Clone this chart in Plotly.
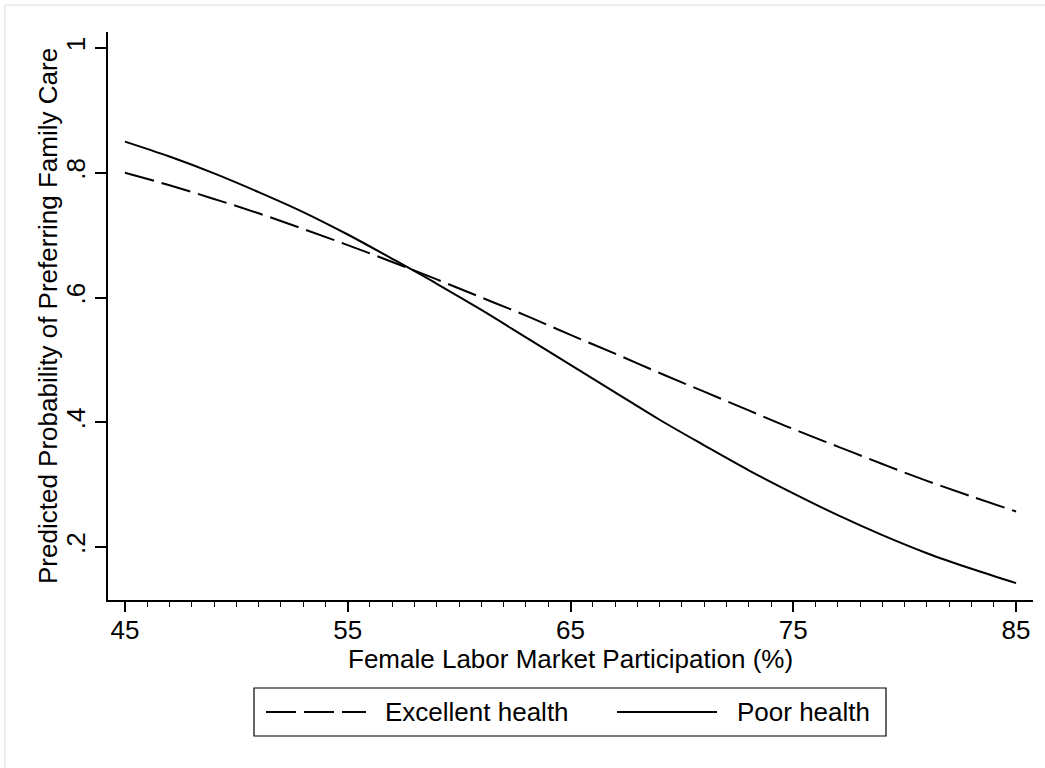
import plotly.graph_objects as go

# Predicted probability of preferring family care by female labor market participation
participation = [45, 47, 49, 51, 53, 55, 57, 59, 61, 63, 65,
                 67, 69, 71, 73, 75, 77, 79, 81, 83, 85]
excellent_health = [0.800, 0.780, 0.758, 0.735, 0.710, 0.684, 0.657, 0.629, 0.600, 0.571, 0.540,
                    0.510, 0.479, 0.449, 0.419, 0.389, 0.361, 0.333, 0.306, 0.281, 0.257]
poor_health = [0.850, 0.826, 0.799, 0.769, 0.737, 0.701, 0.662, 0.622, 0.580, 0.536, 0.492,
               0.448, 0.404, 0.363, 0.323, 0.286, 0.251, 0.219, 0.190, 0.165, 0.142]

x_ticks = [45, 55, 65, 75, 85]
y_ticks = [0.2, 0.4, 0.6, 0.8, 1.0]
y_tick_text = [".2", ".4", ".6", ".8", "1"]

series_names = ["Excellent health", "Poor health"]
x_title = "Female Labor Market Participation (%)"
y_title = "Predicted Probability of Preferring Family Care"

FONT = "Liberation Sans, Arial, Helvetica, sans-serif"
FS = 26
DASH = "30px,8px"

W, H = 1045, 768
L, R, T, B = 108, 12, 32, 168
PW, PH = W - L - R, H - T - B


def px(xp):
    return (xp - L) / PW


def py(yp):
    return (H - B - yp) / PH


fig = go.Figure()
fig.add_trace(go.Scatter(x=participation, y=excellent_health, mode="lines",
                         name=series_names[0], line=dict(color="black", width=2, dash=DASH,
                                                         shape="spline"),
                         showlegend=False))
fig.add_trace(go.Scatter(x=participation, y=poor_health, mode="lines",
                         name=series_names[1], line=dict(color="black", width=2,
                                                         shape="spline"),
                         showlegend=False))

fig.update_layout(
    width=W, height=H,
    margin=dict(l=L, r=R, t=T, b=B),
    paper_bgcolor="white", plot_bgcolor="white",
    font=dict(family=FONT, size=FS, color="black"),
    xaxis=dict(
        range=[44.24, 85.76], tickvals=x_ticks, ticks="outside", ticklen=10,
        tickwidth=1.5, tickcolor="black", showline=True, linecolor="black",
        linewidth=1.5, showgrid=False, zeroline=False, ticklabelstandoff=-4,
        minor=dict(dtick=1, tick0=45, ticks="outside", ticklen=5, tickwidth=1.2,
                   tickcolor="black", showgrid=False),
    ),
    yaxis=dict(
        range=[0.115, 1.0257], tickvals=y_ticks, ticktext=y_tick_text, tickangle=-90,
        ticks="outside", ticklen=11, tickwidth=1.5, tickcolor="black",
        showline=True, linecolor="black", linewidth=1.5, showgrid=False,
        zeroline=False,
    ),
)

# Legend box with line samples
lg_top, lg_bot = 688, 736
lg_mid = (lg_top + lg_bot) / 2
shapes = [
    dict(type="rect", xref="paper", yref="paper", x0=px(254), x1=px(886),
         y0=py(lg_bot), y1=py(lg_top), line=dict(color="black", width=1.2)),
    dict(type="line", xref="paper", yref="paper", x0=px(266), x1=px(366),
         y0=py(lg_mid), y1=py(lg_mid), line=dict(color="black", width=2, dash=DASH)),
    dict(type="line", xref="paper", yref="paper", x0=px(617), x1=px(717),
         y0=py(lg_mid), y1=py(lg_mid), line=dict(color="black", width=2)),
    # faint outer frame edges
    dict(type="line", xref="paper", yref="paper", x0=px(5), x1=px(W),
         y0=py(5), y1=py(5), line=dict(color="#e6eaec", width=1.5)),
    dict(type="line", xref="paper", yref="paper", x0=px(5), x1=px(5),
         y0=py(5), y1=py(H), line=dict(color="#e6eaec", width=1.5)),
]
annotations = [
    # axis titles
    dict(xref="paper", yref="paper", x=0.5, y=py(659), text=x_title,
         showarrow=False, xanchor="center", yanchor="middle", font=dict(size=FS)),
    dict(xref="paper", yref="paper", x=px(48), y=0.5, text=y_title, textangle=-90,
         showarrow=False, xanchor="center", yanchor="middle", font=dict(size=FS)),
    # legend labels
    dict(xref="paper", yref="paper", x=px(383), y=py(lg_mid), text=series_names[0],
         showarrow=False, xanchor="left", yanchor="middle", font=dict(size=FS)),
    dict(xref="paper", yref="paper", x=px(735), y=py(lg_mid), text=series_names[1],
         showarrow=False, xanchor="left", yanchor="middle", font=dict(size=FS)),
]
fig.update_layout(shapes=shapes, annotations=annotations)

fig.write_html("out.html")
